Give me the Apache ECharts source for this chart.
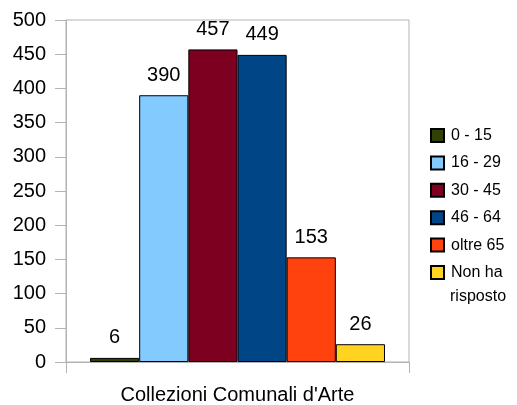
<!DOCTYPE html>
<html><head><meta charset="utf-8">
<script src="https://cdn.jsdelivr.net/npm/echarts@6/dist/echarts.min.js"></script>
<style>html,body{margin:0;padding:0;background:#fff}#c{width:517px;height:405px}</style>
</head><body><div id="c"></div>
<script>
const categories = ["Collezioni Comunali d'Arte"];
const seriesNames = ["0 - 15", "16 - 29", "30 - 45", "46 - 64", "oltre 65", "Non ha risposto"];
const seriesValues = [[6], [390], [457], [449], [153], [26]];
const seriesColors = ["#314004", "#83caff", "#7e0021", "#004586", "#ff420e", "#ffd320"];
const yTicks = [0, 50, 100, 150, 200, 250, 300, 350, 400, 450, 500];

const font = "Liberation Sans, Arial, sans-serif";
const chart = echarts.init(document.getElementById('c'), null, {renderer: 'canvas'});
chart.setOption({
  animation: false,
  textStyle: {fontFamily: font},
  grid: {left: 66, right: 108, top: 20, bottom: 43, show: true, borderColor: '#b3b3b3', borderWidth: 1},
  legend: {
    orient: 'vertical', left: 430, top: 123, padding: 0,
    itemWidth: 13, itemHeight: 13, itemGap: 2.4,
    icon: 'rect',
    data: seriesNames,
    textStyle: {fontSize: 16, color: '#000', fontFamily: font, lineHeight: 25, padding: [0, 0, 0, 2]},
    formatter: n => n === 'Non ha risposto' ? 'Non ha' : n
  },
  graphic: [{
    type: 'text', left: 450, top: 289,
    style: {text: 'risposto', fontSize: 16, fill: '#000', fontFamily: font}
  }],
  xAxis: {
    type: 'category', data: categories,
    axisLine: {lineStyle: {color: '#b3b3b3'}},
    axisTick: {show: true, length: 11, lineStyle: {color: '#b3b3b3'}},
    axisLabel: {fontSize: 20, color: '#000', margin: 23, fontFamily: font}
  },
  yAxis: {
    type: 'value', min: 0, max: 500, interval: 50,
    axisLine: {show: true, lineStyle: {color: '#b3b3b3'}},
    axisTick: {show: true, length: 11, lineStyle: {color: '#b3b3b3'}},
    splitLine: {show: false},
    axisLabel: {fontSize: 20, color: '#000', margin: 20, fontFamily: font,
      formatter: v => yTicks.includes(v) ? String(v) : ''}
  },
  series: seriesNames.map((n, i) => ({
    name: n, type: 'bar', data: seriesValues[i],
    barGap: '0%', barCategoryGap: '14%',
    itemStyle: {color: seriesColors[i], borderColor: '#000', borderWidth: 1},
    label: {show: true, position: 'top', distance: 10, fontSize: 20, color: '#000', fontFamily: font}
  }))
});
</script></body></html>
